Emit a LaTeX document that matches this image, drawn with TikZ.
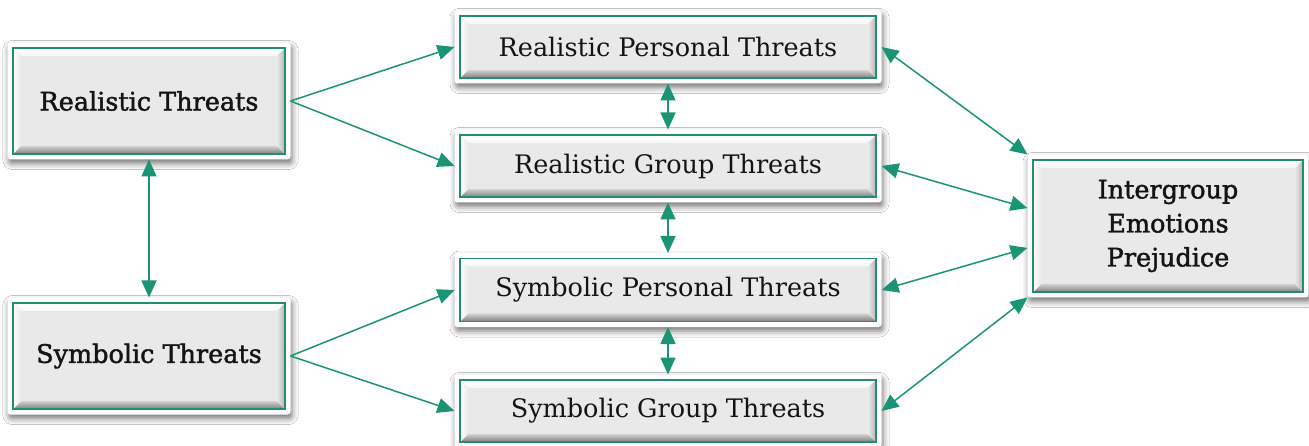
\documentclass[tikz,border=0pt]{standalone}
\usepackage{fontspec}
\setmainfont{DejaVu Serif}
\newfontfamily\heavy{DejaVu Serif}[FakeBold=1.6]
\usetikzlibrary{arrows.meta,shadows.blur,calc}
\pgfdeclarelayer{background}
\pgfsetlayers{background,main}
\definecolor{linkteal}{RGB}{26,148,116}
\definecolor{rimteal}{RGB}{38,140,112}
\definecolor{cardgray}{RGB}{233,233,233}
\definecolor{inkblack}{RGB}{20,20,20}
\tikzset{
  card/.style={draw=rimteal, line width=1.8pt, fill=cardgray, inner sep=0pt,
    outer sep=5.5pt, text=inkblack, align=center,
    font=\fontsize{25.5}{34}\selectfont,
    path picture={
      \path (path picture bounding box.north west) coordinate (pnw)
            (path picture bounding box.north east) coordinate (pne)
            (path picture bounding box.south west) coordinate (psw)
            (path picture bounding box.south east) coordinate (pse);
      % bevelled rim: light on top and left, darker at the bottom and right
      \fill[top color=white, bottom color=cardgray!40!white]
        (pnw) -- (pne) -- ([shift={(-8pt,-8pt)}]pne) -- ([shift={(8pt,-8pt)}]pnw) -- cycle;
      \fill[top color=cardgray!90!black, bottom color=black!50]
        (psw) -- (pse) -- ([shift={(-8pt,8pt)}]pse) -- ([shift={(8pt,8pt)}]psw) -- cycle;
      \fill[left color=white, right color=cardgray]
        (pnw) -- ([shift={(8pt,-8pt)}]pnw) -- ([shift={(8pt,8pt)}]psw) -- (psw) -- cycle;
      \fill[left color=cardgray, right color=black!30]
        (pne) -- ([shift={(-8pt,-8pt)}]pne) -- ([shift={(-8pt,8pt)}]pse) -- (pse) -- cycle;
    }},
  frame/.style={fill=white, rounded corners=3pt,
    blur shadow={shadow xshift=1.5pt, shadow yshift=-4pt, shadow blur radius=6pt,
      shadow opacity=55}},
  link/.style={draw=linkteal, line width=1.5pt,
    {Triangle[length=17pt, width=15pt]}-{Triangle[length=17pt, width=15pt]}},
  onelink/.style={draw=linkteal, line width=1.5pt,
    -{Triangle[length=17pt, width=15pt]}},
}
\begin{document}
\begin{tikzpicture}[x=1pt, y=-1pt]
\useasboundingbox (0,0) rectangle (1309,446);

% boxes
\node[card, minimum width=272pt, minimum height=106pt] (rt) at (149,101) {\heavy Realistic Threats};
\node[card, minimum width=272pt, minimum height=106pt] (st) at (149,356) {\heavy Symbolic Threats};
\node[card, minimum width=416pt, minimum height=62pt] (rpt) at (668,47) {Realistic Personal Threats};
\node[card, minimum width=416pt, minimum height=62pt] (rgt) at (668,166) {Realistic Group Threats};
\node[card, minimum width=416pt, minimum height=63pt] (spt) at (668,290) {Symbolic Personal Threats};
\node[card, minimum width=416pt, minimum height=62pt] (sgt) at (668,411) {Symbolic Group Threats};
\node[card, minimum width=270pt, minimum height=132pt] (iep) at (1168,226) {\heavy Intergroup\\\heavy Emotions\\\heavy Prejudice};

% page ground and the white raised frames behind the boxes
\begin{pgfonlayer}{background}
  \fill[white] (0,0) rectangle (1309,446);
  \foreach \n in {rt,st,rpt,rgt,spt,sgt,iep}
    \path[frame] (\n.north west) rectangle (\n.south east);
\end{pgfonlayer}

% left-side links
\path[onelink] (rt.east) -- (rpt.west);
\path[onelink] (rt.east) -- (rgt.west);
\path[onelink] (st.east) -- (spt.west);
\path[onelink] (st.east) -- (sgt.west);
\path[link] (rt.south) -- (st.north);

% links between the middle boxes
\path[link] (rpt.south) -- (rgt.north);
\path[link] (rgt.south) -- (spt.north);
\path[link] (spt.south) -- (sgt.north);

% links to the outcome box
\coordinate (iepa) at ($(iep.north west)!0.375!(iep.south west)$);
\coordinate (iepb) at ($(iep.north west)!0.653!(iep.south west)$);
\path[link] (rpt.east) -- (iep.north west);
\path[link] (rgt.east) -- (iepa);
\path[link] (spt.east) -- (iepb);
\path[link] (sgt.east) -- (iep.south west);
\end{tikzpicture}
\end{document}
